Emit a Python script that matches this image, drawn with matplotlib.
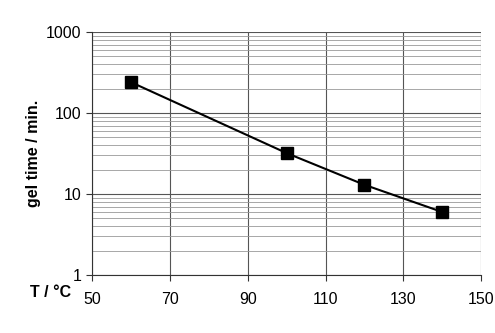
import matplotlib.pyplot as plt
from matplotlib.ticker import LogLocator, FixedLocator, NullFormatter

plt.rcParams['font.family'] = ['Liberation Sans', 'DejaVu Sans']

# gel time vs temperature
temps = [60, 100, 120, 140]
gel_times = [240, 32, 13, 6]

x_ticks = [50, 70, 90, 110, 130, 150]
y_ticks = [1, 10, 100, 1000]
y_tick_labels = ['1', '10', '100', '1000']

fig = plt.figure(figsize=(4.95, 3.33), dpi=100)
ax = fig.add_axes([0.186, 0.174, 0.786, 0.730])

ax.set_yscale('log')
ax.set_xlim(50, 150)
ax.set_ylim(1, 1000)

ax.xaxis.set_major_locator(FixedLocator(x_ticks))
ax.yaxis.set_major_locator(FixedLocator(y_ticks))
ax.set_yticklabels(y_tick_labels)
ax.yaxis.set_minor_locator(LogLocator(base=10, subs=range(2, 10)))
ax.yaxis.set_minor_formatter(NullFormatter())

# excel-like grid
ax.grid(True, which='major', axis='both', color='#555555', linewidth=0.8)
ax.grid(True, which='minor', axis='y', color='#999999', linewidth=0.6)
ax.set_axisbelow(True)

for side in ['top', 'right']:
    ax.spines[side].set_visible(False)
ax.spines['left'].set_color('#333333')
ax.spines['bottom'].set_color('#333333')

ax.tick_params(axis='both', which='major', direction='out', length=4,
               labelsize=11.5, color='#333333')
ax.tick_params(axis='x', which='major', pad=8)
ax.tick_params(axis='y', which='minor', length=0)

ax.plot(temps, gel_times, color='black', linewidth=1.5, marker='s',
        markersize=9, markerfacecolor='black', markeredgecolor='black',
        clip_on=False)

ax.set_ylabel('gel time / min.', fontsize=11.5, fontweight='bold', labelpad=4)
fig.text(0.103, 0.123, 'T / °C', fontsize=11.5, fontweight='bold',
         ha='center', va='center')

fig.savefig('out.png', dpi=100)
